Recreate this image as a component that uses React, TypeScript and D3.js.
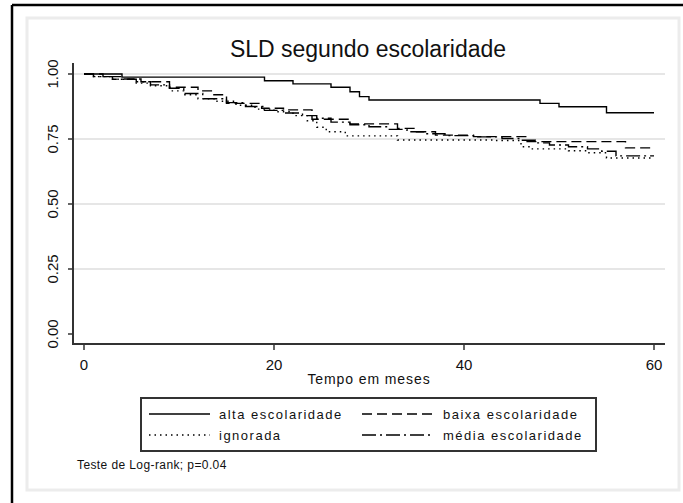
import React from 'react';
import * as d3 from 'd3';

// Kaplan-Meier step data: time (months) where survival changes, and survival from that time on
const altaTimes = [0, 4, 19, 22, 26, 28, 29, 30, 48, 50, 55, 60];
const altaSurv = [1, 0.988, 0.974, 0.962, 0.949, 0.932, 0.913, 0.9, 0.887, 0.874, 0.851, 0.851];

const baixaTimes = [0, 2, 4, 6, 9, 12, 13.5, 15, 18.7, 21, 24, 28, 33, 35, 37, 41, 46.5, 57, 60];
const baixaSurv = [1, 0.99, 0.981, 0.97, 0.949, 0.935, 0.92, 0.887, 0.868, 0.862, 0.826, 0.808, 0.791, 0.778, 0.765, 0.759, 0.74, 0.716, 0.716];

const ignoradaTimes = [0, 1, 3, 5.5, 7, 9, 10.5, 12, 14, 16, 18, 20, 22, 23.5, 24.5, 25.5, 27.5, 33, 43, 46, 47, 51, 53, 55, 60];
const ignoradaSurv = [1, 0.99, 0.98, 0.965, 0.955, 0.935, 0.92, 0.905, 0.895, 0.88, 0.865, 0.855, 0.84, 0.82, 0.795, 0.778, 0.762, 0.746, 0.744, 0.72, 0.712, 0.705, 0.697, 0.677, 0.677];

const mediaTimes = [0, 1, 3, 5.5, 7, 9, 10.5, 12.5, 15, 17, 19, 21, 23, 24.5, 26, 28, 30, 32, 34, 36, 38, 41, 44, 46, 47.5, 49, 51, 53, 54.5, 56, 60];
const mediaSurv = [1, 0.99, 0.98, 0.97, 0.958, 0.945, 0.925, 0.905, 0.89, 0.875, 0.86, 0.85, 0.84, 0.83, 0.815, 0.805, 0.797, 0.787, 0.778, 0.77, 0.763, 0.758, 0.752, 0.745, 0.735, 0.727, 0.72, 0.712, 0.703, 0.685, 0.685];

const xTicks = [0, 20, 40, 60];
const yTicks = [0, 0.25, 0.5, 0.75, 1];

const series = [
  { name: 'alta escolaridade', times: altaTimes, surv: altaSurv, dash: '' },
  { name: 'baixa escolaridade', times: baixaTimes, surv: baixaSurv, dash: '10,5' },
  { name: 'ignorada', times: ignoradaTimes, surv: ignoradaSurv, dash: '1.5,4' },
  { name: 'média escolaridade', times: mediaTimes, surv: mediaSurv, dash: '14,4,2,4' },
];

const font = 'Arial, "Liberation Sans", sans-serif';

export default function App() {
  const x = d3.scaleLinear().domain([0, 60]).range([84, 654]);
  const y = d3.scaleLinear().domain([0, 1]).range([334, 74]);

  const line = d3.line<[number, number]>()
    .x(d => x(d[0]))
    .y(d => y(d[1]))
    .curve(d3.curveStepAfter);

  // legend columns: [line start, line end, text start]
  const legendCols = [[149, 210, 219], [362, 433, 443]];

  return (
    <svg width={683} height={503} style={{ position: 'absolute', left: 0, top: 0, background: '#fff' }}
      fontFamily={font}>
      <rect x={0} y={0} width={683} height={503} fill="#fff" />
      {/* outer frame */}
      <line x1={12} y1={5} x2={683} y2={5} stroke="#000" strokeWidth={2.5} />
      <line x1={12} y1={5} x2={12} y2={503} stroke="#000" strokeWidth={2.5} />
      {/* plot region panel */}
      <rect x={27} y={18} width={652} height={472} fill="#fff" stroke="#ececec" strokeWidth={3} />

      <text x={368} y={57} textAnchor="middle" fontSize={23} fill="#111">SLD segundo escolaridade</text>

      {/* grid */}
      {yTicks.filter(t => t > 0).map(t => (
        <line key={t} x1={73} x2={665} y1={y(t)} y2={y(t)} stroke="#e6e6e6" strokeWidth={2} />
      ))}

      {/* axes */}
      <line x1={73} y1={63} x2={73} y2={344} stroke="#333" strokeWidth={2} />
      <line x1={72} y1={344} x2={665} y2={344} stroke="#333" strokeWidth={2} />
      {yTicks.map(t => (
        <g key={t}>
          <line x1={68} x2={73} y1={y(t)} y2={y(t)} stroke="#333" strokeWidth={1.5} />
          <text transform={`translate(58,${y(t)}) rotate(-90)`} textAnchor="middle" fontSize={15} fill="#111">
            {d3.format('.2f')(t)}
          </text>
        </g>
      ))}
      {xTicks.map(t => (
        <g key={t}>
          <line x1={x(t)} x2={x(t)} y1={344} y2={350} stroke="#333" strokeWidth={1.5} />
          <text x={x(t)} y={370} textAnchor="middle" fontSize={15} fill="#111">{t}</text>
        </g>
      ))}
      <text x={369} y={384} textAnchor="middle" fontSize={14} letterSpacing={0.9} fill="#111">Tempo em meses</text>

      {/* curves */}
      {series.map(s => (
        <path key={s.name}
          d={line(s.times.map((t, i) => [t, s.surv[i]] as [number, number])) || ''}
          fill="none" stroke="#000" strokeWidth={1.4} strokeDasharray={s.dash || undefined} />
      ))}

      {/* legend */}
      <rect x={141} y={398} width={455} height={53} fill="#fff" stroke="#333" strokeWidth={2} />
      {series.map((s, i) => {
        const [l1, l2, tx] = legendCols[i % 2];
        const ly = Math.floor(i / 2) === 0 ? 414 : 435;
        return (
          <g key={s.name}>
            <line x1={l1} x2={l2} y1={ly} y2={ly} stroke="#000" strokeWidth={1.4}
              strokeDasharray={s.dash || undefined} />
            <text x={tx} y={ly + 5} fontSize={13} letterSpacing={1.5} fill="#111">{s.name}</text>
          </g>
        );
      })}

      <text x={77} y={469} fontSize={12} letterSpacing={0.4} fill="#111">Teste de Log-rank; p=0.04</text>
    </svg>
  );
}
